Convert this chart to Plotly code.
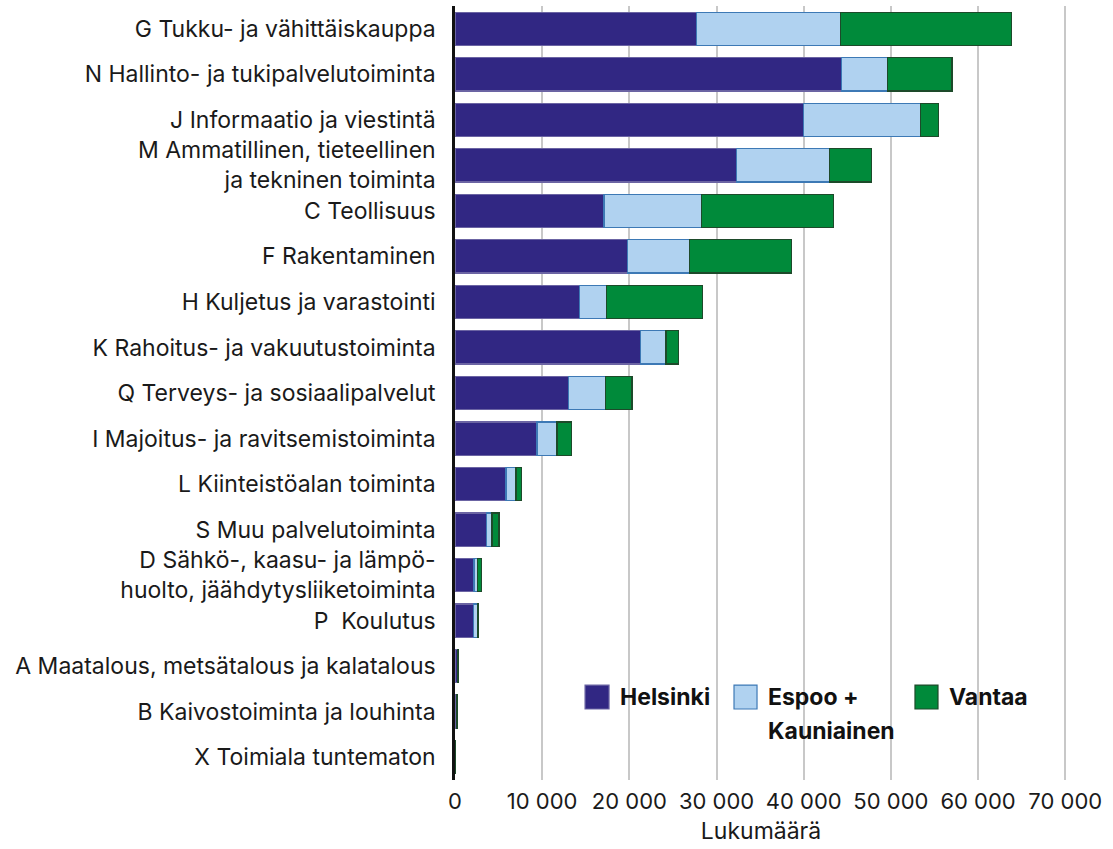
import plotly.graph_objects as go

categories = [
    "G Tukku- ja vähittäiskauppa",
    "N Hallinto- ja tukipalvelutoiminta",
    "J Informaatio ja viestintä",
    "M Ammatillinen, tieteellinen<br>ja tekninen toiminta",
    "C Teollisuus",
    "F Rakentaminen",
    "H Kuljetus ja varastointi",
    "K Rahoitus- ja vakuutustoiminta",
    "Q Terveys- ja sosiaalipalvelut",
    "I Majoitus- ja ravitsemistoiminta",
    "L Kiinteistöalan toiminta",
    "S Muu palvelutoiminta",
    "D Sähkö-, kaasu- ja lämpö-<br>huolto, jäähdytysliiketoiminta",
    "P\u00a0 Koulutus",
    "A Maatalous, metsätalous ja kalatalous",
    "B Kaivostoiminta ja louhinta",
    "X Toimiala tuntematon",
]

helsinki = [27700, 44300, 40000, 32300, 17100, 19800, 14300, 21300, 13000, 9400, 5850, 3600, 2180, 2100, 250, 150, 10]
espoo_kauniainen = [16500, 5300, 13400, 10700, 11200, 7100, 3100, 2900, 4300, 2300, 1150, 640, 420, 460, 40, 30, 5]
vantaa = [19600, 7400, 2100, 4800, 15100, 11700, 11000, 1400, 3000, 1700, 600, 800, 460, 110, 120, 80, 5]

series_names = ["Helsinki", "Espoo +<br>Kauniainen", "Vantaa"]
fill_colors = ["#312783", "#b0d2f0", "#008a3a"]
line_colors = ["#6b64a3", "#3d79b5", "#1d4a2a"]

FONT = "Inter, Roboto, sans-serif"
TXT = "#1a1a1a"

fig = go.Figure()
for vals, name, fc, lc in zip([helsinki, espoo_kauniainen, vantaa], series_names, fill_colors, line_colors):
    fig.add_trace(go.Bar(
        y=categories, x=vals, name=name, orientation="h",
        marker=dict(color=fc, line=dict(color=lc, width=1.2)),
        width=0.73, showlegend=False,
        hovertemplate="%{y}: %{x}<extra>" + name + "</extra>",
    ))

# manual legend (large square swatches like the reference)
legend_items = [
    (0.2125, 0.2517, 0.2663),
    (0.4559, 0.4935, 0.5082),
    (0.7516, 0.7892, 0.8039),
]
shapes = []
annotations = []
legend_labels = [["Helsinki"], ["Espoo +", "Kauniainen"], ["Vantaa"]]
for (x0, x1, xt), fc, lc, lines in zip(legend_items, fill_colors, line_colors, legend_labels):
    shapes.append(dict(type="rect", xref="paper", yref="paper", x0=x0, x1=x1,
                       y0=0.0917, y1=0.1227, fillcolor=fc, line=dict(color=lc, width=1.2)))
    for i, t in enumerate(lines):
        annotations.append(dict(xref="paper", yref="paper", x=xt, y=0.1072 - i * 0.0439,
                                text="<b>" + t + "</b>", showarrow=False,
                                xanchor="left", yanchor="middle",
                                font=dict(family=FONT, size=23, color="#111111")))

fig.update_layout(
    barmode="stack",
    width=1113, height=849,
    margin=dict(l=455, r=46, t=6, b=69),
    plot_bgcolor="white", paper_bgcolor="white",
    separators=", ",
    font=dict(family=FONT, size=22, color=TXT),
    shapes=shapes,
    annotations=annotations,
    xaxis=dict(
        range=[0, 70200], dtick=10000, tick0=0,
        showgrid=True, gridcolor="#c8c8c8", gridwidth=1.5,
        zeroline=False, showline=False,
        tickformat=",d",
        tickfont=dict(family=FONT, size=22, color=TXT),
        ticks="", ticklabelstandoff=6,
        title=dict(text="Lukumäärä", font=dict(family=FONT, size=23, color=TXT), standoff=9),
        fixedrange=True,
    ),
    yaxis=dict(
        autorange="reversed",
        showline=True, linecolor="#111111", linewidth=2.5,
        showgrid=False, ticks="",
        ticklabelstandoff=12,
        tickfont=dict(family=FONT, size=23, color=TXT),
        fixedrange=True,
    ),
)

fig.write_html("out.html", config={"displayModeBar": False},
               post_script="document.body.style.margin='0';document.body.style.padding='0';")
